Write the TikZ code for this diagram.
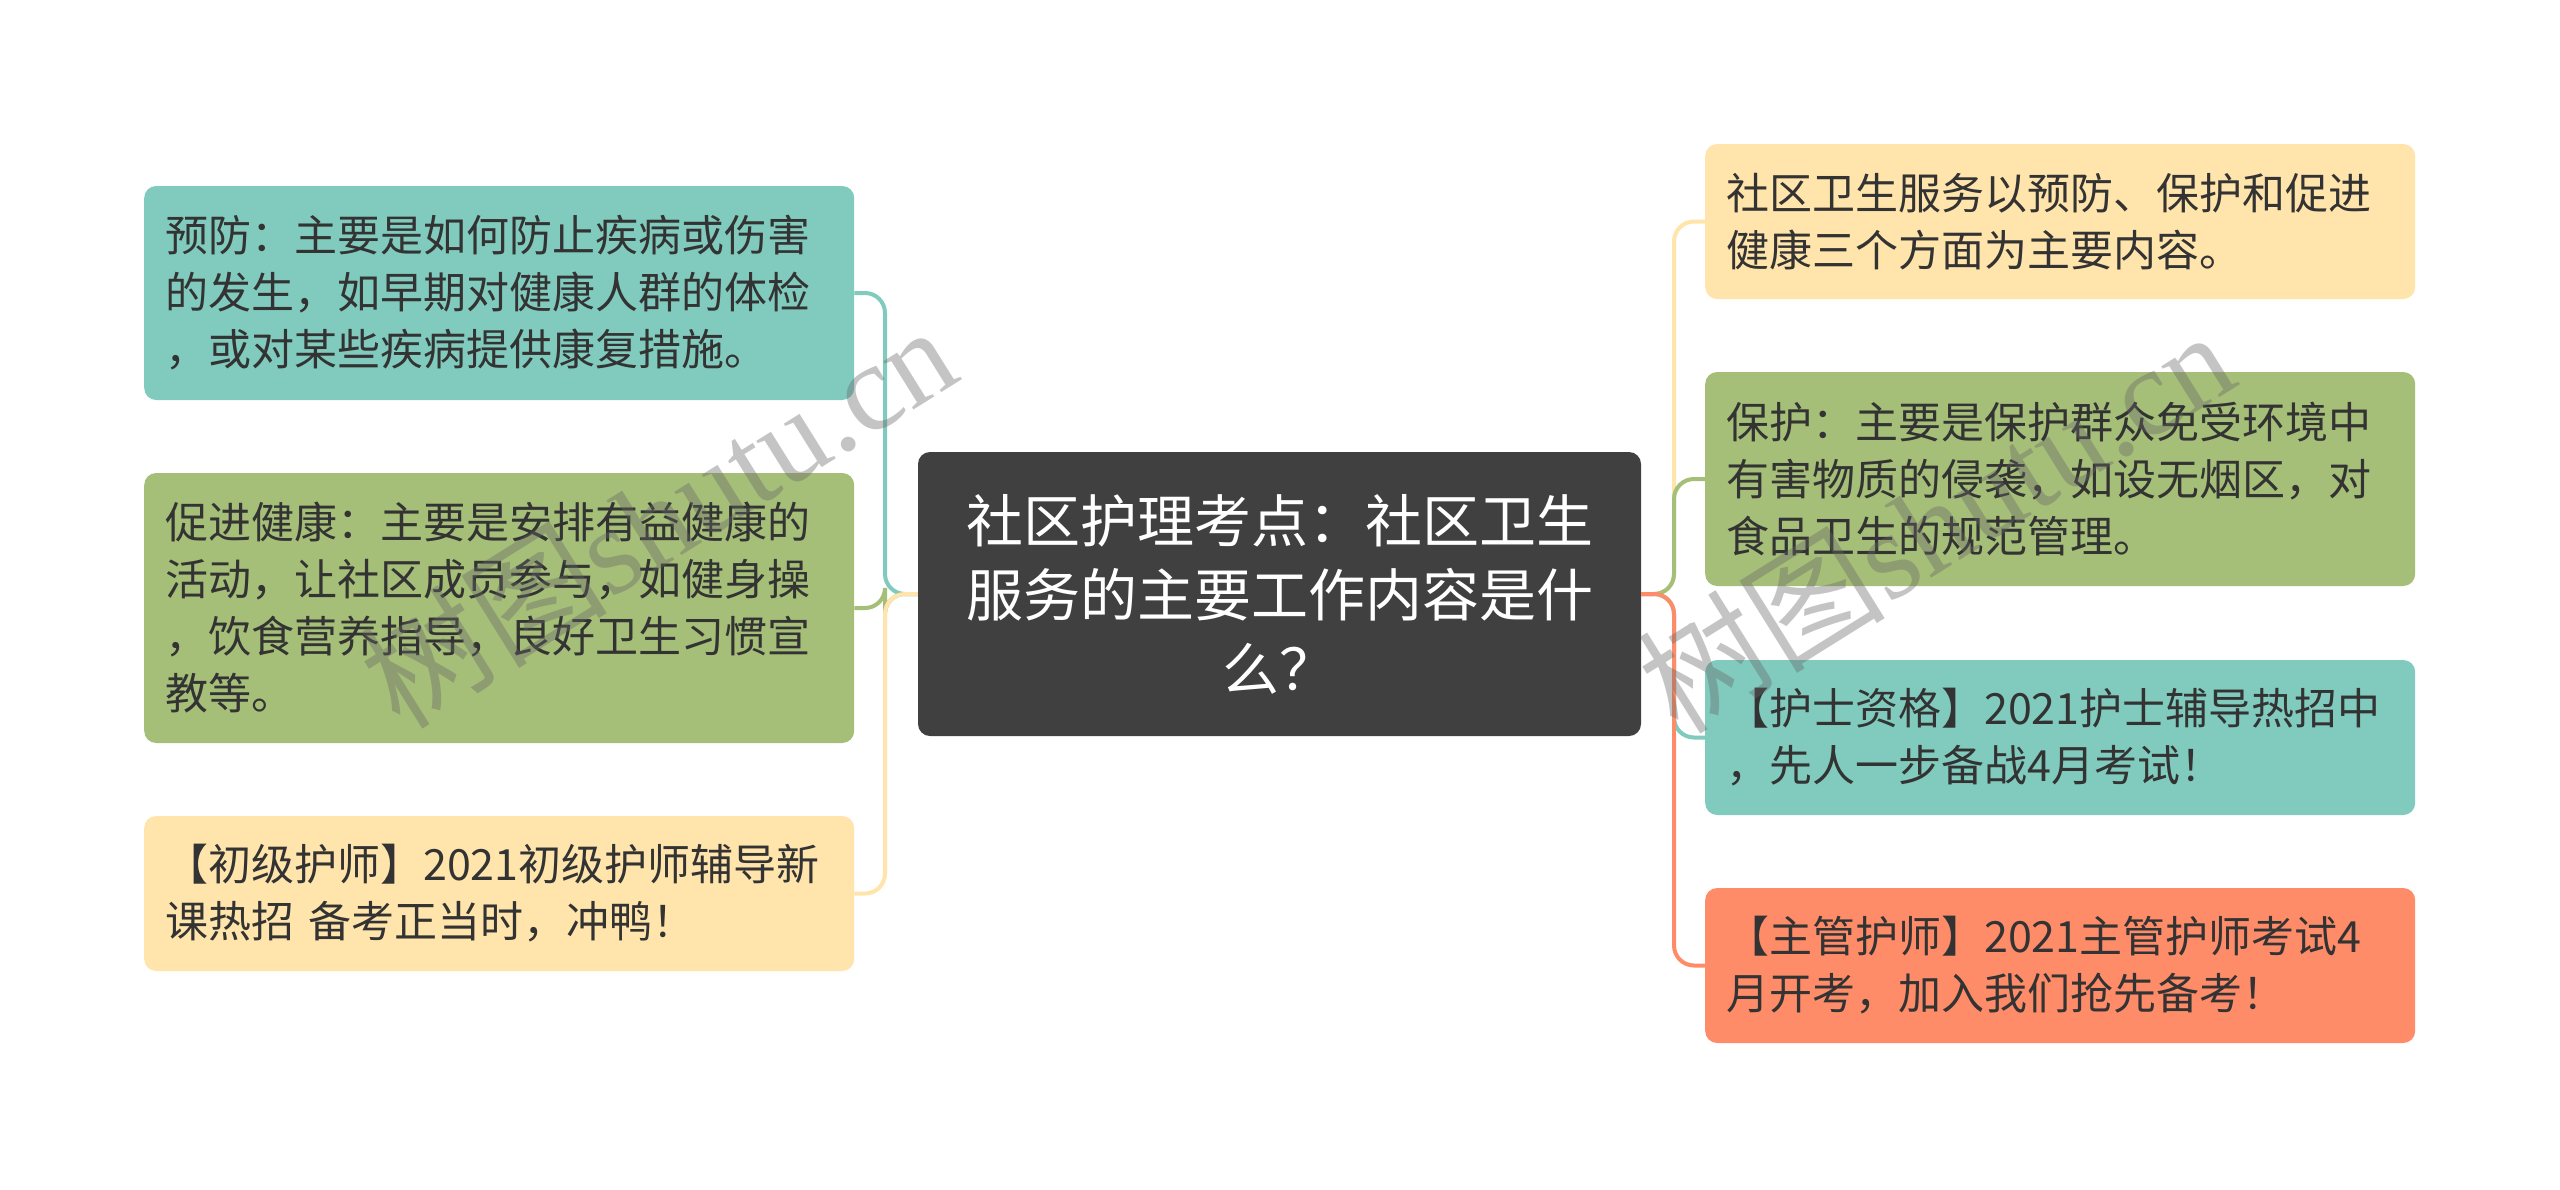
\documentclass[tikz,border=0pt]{standalone}
\usepackage{fontspec}
\setmainfont{Noto Sans CJK SC}
\newfontfamily\wmlatin{Liberation Serif}
\newfontfamily\wmcjk{Noto Sans CJK SC}
\definecolor{cteal}{HTML}{80CBBE}
\definecolor{cgreen}{HTML}{A5BE78}
\definecolor{cyellow}{HTML}{FFE5AB}
\definecolor{corange}{HTML}{FF8C69}
\definecolor{croot}{HTML}{404040}
\definecolor{ctxt}{HTML}{333333}
\tikzset{
  box/.style={rounded corners=12pt, minimum width=710pt, inner xsep=21pt, inner ysep=0pt,
    align=left, text width=668pt, font=\fontsize{43pt}{57pt}\selectfont, text=ctxt, anchor=west},
  rootbox/.style={rounded corners=12pt, fill=croot, minimum width=723pt, minimum height=284pt,
    text width=680pt, align=center, text=white, font=\fontsize{57pt}{74pt}\selectfont},
  conn/.style={draw=#1, line width=4pt, rounded corners=20pt},
  wm/.style={text=black!60, opacity=0.38, font=\fontsize{124pt}{124pt}\selectfont, inner sep=0pt}
}
\begin{document}
\begin{tikzpicture}[x=1pt, y=-1pt]
\useasboundingbox (0,0) rectangle (2560,1189);
\fill[white] (0,0) rectangle (2560,1189);

\node[rootbox] (root) at (1279.5,594) {社区护理考点：社区卫生\\服务的主要工作内容是什\\么？};

\node[box, fill=cteal, minimum height=214pt] (L1) at (144,293)
  {预防：主要是如何防止疾病或伤害\\的发生，如早期对健康人群的体检\\，或对某些疾病提供康复措施。};
\node[box, fill=cgreen, minimum height=270pt] (L2) at (144,608)
  {促进健康：主要是安排有益健康的\\活动，让社区成员参与，如健身操\\，饮食营养指导，良好卫生习惯宣\\教等。};
\node[box, fill=cyellow, minimum height=155pt] (L3) at (144,893.5)
  {【初级护师】2021初级护师辅导新\\课热招 备考正当时，冲鸭！};

\node[box, fill=cyellow, minimum height=155pt] (R1) at (1705,221.5)
  {社区卫生服务以预防、保护和促进\\健康三个方面为主要内容。};
\node[box, fill=cgreen, minimum height=214pt] (R2) at (1705,479)
  {保护：主要是保护群众免受环境中\\有害物质的侵袭，如设无烟区，对\\食品卫生的规范管理。};
\node[box, fill=cteal, minimum height=155pt] (R3) at (1705,737.5)
  {【护士资格】2021护士辅导热招中\\，先人一步备战4月考试！};
\node[box, fill=corange, minimum height=155pt] (R4) at (1705,965.5)
  {【主管护师】2021主管护师考试4\\月开考，加入我们抢先备考！};

\coordinate (tl) at (885,594);
\coordinate (tr) at (1674,594);

\draw[conn=cteal] (root.west) -- (tl) -- (tl |- L1.east) -- (L1.east);
\draw[conn=cgreen] (root.west) -- (tl) -- (tl |- L2.east) -- (L2.east);
\draw[conn=cyellow] (root.west) -- (tl) -- (tl |- L3.east) -- (L3.east);

\draw[conn=cyellow] (root.east) -- (tr) -- (tr |- R1.west) -- (R1.west);
\draw[conn=cgreen] (root.east) -- (tr) -- (tr |- R2.west) -- (R2.west);
\draw[conn=cteal] (root.east) -- (tr) -- (tr |- R3.west) -- (R3.west);
\draw[conn=corange] (root.east) -- (tr) -- (tr |- R4.west) -- (R4.west);

\node[wm, rotate=32] (wm1) at (657,515) {\wmcjk 树图\wmlatin shutu.cn};
\node[wm, rotate=32] (wm2) at (1935,520) {\wmcjk 树图\wmlatin shutu.cn};
\end{tikzpicture}
\end{document}
